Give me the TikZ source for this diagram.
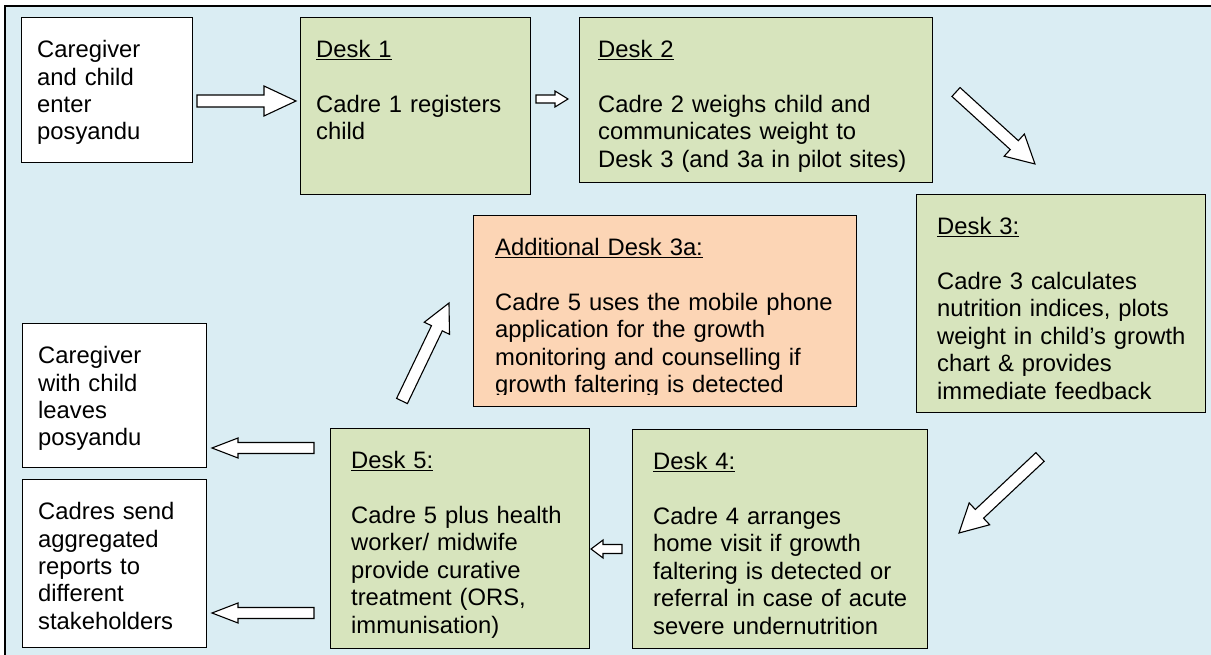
\documentclass[tikz,border=0pt]{standalone}
\usepackage{fontspec}
\setmainfont{Liberation Sans}
\usetikzlibrary{calc}
\definecolor{bgblue}{RGB}{218,237,243}
\definecolor{deskgreen}{RGB}{215,228,189}
\definecolor{deskorange}{RGB}{252,213,181}
\tikzset{
  deskbox/.style={draw=black, line width=1.4pt, anchor=north west, inner sep=0pt, fill=deskgreen},
  whitebox/.style={deskbox, fill=white},
  orangebox/.style={deskbox, fill=deskorange},
  txt/.style={anchor=north west, inner sep=0pt, text width=#1, align=left,
    font=\fontsize{23.8}{27.4}\selectfont},
  barrow/.style={draw=black, line width=1.1pt, fill=white, line join=miter}
}
\newcommand\blockarrow[5]{%
  \draw[barrow] let \p1=(#1), \p2=(#2),
    \n1={atan2(\y2-\y1,\x2-\x1)}, \n2={veclen(\x2-\x1,\y2-\y1)} in
    [shift={(\p1)}, rotate=\n1]
    (0,-#3/2) -- (\n2-#5,-#3/2) -- (\n2-#5,-#4/2) -- (\n2,0) --
    (\n2-#5,#4/2) -- (\n2-#5,#3/2) -- (0,#3/2) -- cycle;}
\begin{document}
\begin{tikzpicture}[x=1pt, y=-1pt]
\useasboundingbox (0,0) rectangle (1211,655);
\fill[bgblue] (5,6) rectangle (1211,655);
\draw[line width=1.4pt] (5,655) -- (5,6) -- (1211,6);

% boxes
\node[whitebox, minimum width=171pt, minimum height=145pt] (enter) at (21,17) {};
\node[deskbox, minimum width=230pt, minimum height=177pt] (desk1) at (300,17) {};
\node[deskbox, minimum width=353pt, minimum height=165pt] (desk2) at (579,17) {};
\node[deskbox, minimum width=289pt, minimum height=218pt] (desk3) at (916,194) {};
\node[orangebox, minimum width=383pt, minimum height=191pt] (desk3a) at (473,215) {};
\node[deskbox, minimum width=295pt, minimum height=219pt] (desk4) at (632,429) {};
\node[deskbox, minimum width=259pt, minimum height=220pt] (desk5) at (330,428) {};
\node[whitebox, minimum width=184pt, minimum height=144pt] (leave) at (22,323) {};
\node[whitebox, minimum width=184pt, minimum height=168pt] (report) at (22,479) {};

% texts
\node[txt=160pt] (entert) at ($(enter.north west)+(16,21.3)$)
  {\strut Caregiver\\and child\\enter\\posyandu};
\node[txt=210pt] (desk1t) at ($(desk1.north west)+(16,21.3)$)
  {\strut\underline{Desk 1}\\[27.4pt]Cadre 1 registers\\child};
\node[txt=330pt] (desk2t) at ($(desk2.north west)+(19,21.3)$)
  {\strut\underline{Desk 2}\\[27.4pt]Cadre 2 weighs child and\\communicates weight to\\Desk 3 (and 3a in pilot sites)};
\node[txt=270pt] (desk3t) at ($(desk3.north west)+(21,21.3)$)
  {\strut\underline{Desk 3:}\\[27.4pt]Cadre 3 calculates\\nutrition indices, plots\\weight in child’s growth\\chart \& provides\\immediate feedback};
\begin{scope}
  \clip ($(desk3a.north west)+(1,1)$) rectangle ($(desk3a.south east)+(-1,-12.5)$);
  \node[txt=360pt] (desk3at) at ($(desk3a.north west)+(22,21.3)$)
    {\strut\underline{Additional Desk 3a:}\\[27.4pt]Cadre 5 uses the mobile phone\\application for the growth\\monitoring and counselling if\\growth faltering is detected};
\end{scope}
\node[txt=280pt] (desk4t) at ($(desk4.north west)+(21,21.3)$)
  {\strut\underline{Desk 4:}\\[27.4pt]Cadre 4 arranges\\home visit if growth\\faltering is detected or\\referral in case of acute\\severe undernutrition};
\node[txt=240pt] (desk5t) at ($(desk5.north west)+(21,21.3)$)
  {\strut\underline{Desk 5:}\\[27.4pt]Cadre 5 plus health\\worker/ midwife\\provide curative\\treatment (ORS,\\immunisation)};
\node[txt=170pt] (leavet) at ($(leave.north west)+(16,21.3)$)
  {\strut Caregiver\\with child\\leaves\\posyandu};
\node[txt=170pt] (reportt) at ($(report.north west)+(16,21.3)$)
  {\strut Cadres send\\aggregated\\reports to\\different\\stakeholders};

% arrow end points
\coordinate (a1s) at (197,101);  \coordinate (a1e) at (296,101);
\coordinate (a2s) at (536,99);   \coordinate (a2e) at (568,99);
\coordinate (a3s) at (956,92);   \coordinate (a3e) at (1035,164);
\coordinate (a4s) at (1040,457); \coordinate (a4e) at (959,533);
\coordinate (a5s) at (622,549);  \coordinate (a5e) at (591,549);
\coordinate (a6s) at (314,448);  \coordinate (a6e) at (212,448);
\coordinate (a7s) at (314,613);  \coordinate (a7e) at (212,613);
\coordinate (a8s) at (402,401);  \coordinate (a8e) at (449,303);

\blockarrow{a1s}{a1e}{12}{30}{32}
\blockarrow{a2s}{a2e}{8}{16}{13}
\blockarrow{a3s}{a3e}{12}{30}{28}
\blockarrow{a4s}{a4e}{12}{30}{28}
\blockarrow{a5s}{a5e}{9}{18}{12}
\blockarrow{a6s}{a6e}{11}{20}{26}
\blockarrow{a7s}{a7e}{11}{20}{26}
\blockarrow{a8s}{a8e}{12}{28}{28}
\end{tikzpicture}
\end{document}
